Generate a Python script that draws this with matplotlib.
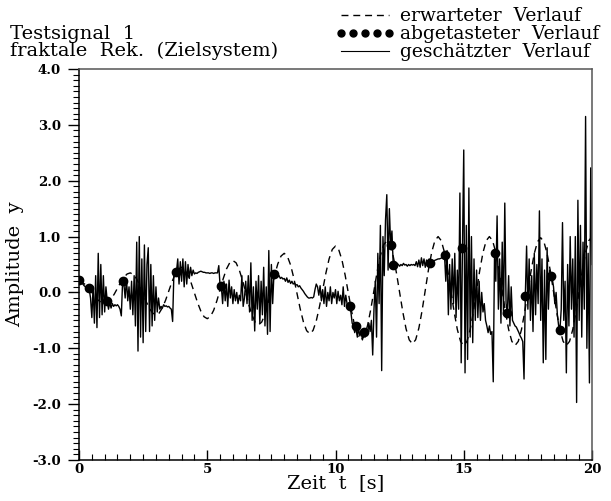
import matplotlib
matplotlib.use("Agg")
import matplotlib.pyplot as plt
from matplotlib.lines import Line2D
from matplotlib.ticker import MultipleLocator, FormatStrFormatter
import numpy as np

plt.rcParams['font.family'] = ['DejaVu Serif']

# geschaetzter Verlauf, abgetastet alle 0.05 s (0 ... 20 s)
y_est = [
    0.22, 0.20, 0.18, 0.15, 0.12, 0.10, 0.08, 0.06, 0.05, -0.10, -0.45, 0.10, -0.55, 0.30, -0.63, 0.70, -0.45, 0.50, -0.40, 0.30,
    -0.35, 0.10, -0.15, -0.30, -0.18, -0.28, -0.20, -0.25, -0.22, -0.24, -0.22, -0.25, -0.30, -0.42, 0.20, 0.15, -0.10, 0.25, -0.15, 0.10,
    -0.30, 0.20, -0.40, 0.30, -0.60, 0.90, -1.05, 1.00, -0.80, 0.60, -0.90, 0.85, -0.70, 0.50, 0.80, -0.70, 0.50, -0.60, 0.30, -0.50,
    0.10, -0.35, -0.10, -0.30, -0.25, -0.28, -0.22, -0.25, -0.24, -0.26, -0.25, -0.28, -0.30, -0.52, 0.35, 0.40, 0.37, 0.60, 0.15, 0.55,
    0.20, 0.60, 0.10, 0.55, 0.15, 0.50, 0.25, 0.45, 0.30, 0.40, 0.33, 0.35, 0.34, 0.36, 0.37, 0.38, 0.37, 0.36, 0.36, 0.35,
    0.35, 0.35, 0.34, 0.35, 0.35, 0.34, 0.35, 0.35, 0.35, 0.48, 0.12, 0.10, -0.20, 0.20, -0.15, 0.15, -0.25, 0.22, -0.10, 0.10,
    -0.20, 0.05, -0.15, 0.00, -0.20, -0.05, -0.15, 0.30, -0.25, -0.10, 0.20, -0.20, 0.30, -0.35, 0.53, -0.50, 0.10, -0.69, 0.20, -0.30,
    0.30, -0.55, 0.20, -0.40, 0.45, -0.60, 0.10, -0.75, 0.75, -0.70, 0.50, -0.20, 0.33, 0.30, 0.32, 0.28, 0.30, 0.25, 0.27, 0.24,
    0.25, 0.20, 0.26, 0.18, 0.22, 0.16, 0.20, 0.15, 0.17, 0.13, 0.14, 0.10, 0.12, 0.08, 0.05, 0.02, -0.02, -0.05, -0.08, -0.10,
    -0.10, -0.09, -0.10, -0.08, 0.05, 0.15, 0.10, -0.05, 0.12, -0.15, 0.05, -0.20, 0.10, -0.25, 0.00, -0.15, 0.10, -0.20, 0.00, -0.10,
    0.05, -0.20, 0.02, -0.15, -0.05, -0.22, 0.10, -0.25, -0.05, -0.20, -0.30, -0.25, -0.35, -0.55, -0.60, -0.72, -0.60, -0.80, -0.65, -0.78,
    -0.70, -0.85, -0.70, -0.80, -0.65, -0.75, -0.55, -0.70, -0.50, -1.12, -0.30, 0.20, -0.80, 0.70, -0.20, 1.20, -1.40, 1.00, 0.30, 1.30,
    1.75, 0.40, 1.50, 0.85, 1.10, 0.50, 0.55, 0.48, 0.52, 0.50, 0.47, 0.50, 0.48, 0.52, 0.49, 0.50, 0.47, 0.50, 0.48, 0.50,
    0.49, 0.50, 0.48, 0.55, 0.46, 0.58, 0.45, 0.62, 0.48, 0.60, 0.45, 0.58, 0.50, 0.60, 0.52, 0.55, 0.56, 0.57, 0.58, 0.59,
    0.60, 0.60, 0.61, 0.62, 0.63, 0.67, 0.20, 0.75, -0.40, 0.50, -0.30, 0.60, -0.20, 0.70, -0.45, 0.40, -0.30, 1.78, -1.26, 0.80,
    2.55, -1.44, 1.20, -1.20, 1.87, -0.80, 1.00, -0.90, 0.60, -0.50, 0.40, -0.45, 0.20, -0.50, 0.00, -0.35, -0.20, -0.50, -0.60, -0.72,
    -0.60, -0.75, -0.70, -1.60, 0.70, 0.20, 1.37, -0.30, 0.60, -0.55, 0.90, -0.40, 1.60, -0.20, -0.37, 0.30, -0.60, 0.10, -0.50, -0.55,
    -0.60, -0.62, -0.67, -0.72, -0.78, -0.82, -0.88, -1.55, -0.06, 0.83, -0.30, 0.60, -0.50, 0.30, -0.70, 0.70, -0.40, 0.50, -0.20, 1.46,
    -0.50, 0.60, -1.26, 0.40, -1.20, 0.80, -0.30, 0.40, 0.30, 0.25, 0.10, -0.20, 0.00, -0.40, -0.60, -0.67, -0.30, 1.25, -0.50, 0.20,
    -1.44, 0.50, -0.60, 1.00, -0.30, 0.60, -0.80, 1.00, -1.97, 1.65, -0.50, 1.20, -0.80, 0.90, -0.30, 3.15, -1.00, 0.70, -1.62, 2.23,
    0.50,
]
t_est = np.arange(len(y_est)) * 0.05

# erwarteter Verlauf, alle 0.125 s
y_exp = [
    0.20, 0.18, 0.14, 0.08, 0.00, -0.08, -0.14, -0.18,
    -0.20, -0.18, -0.12, -0.03, 0.075, 0.18, 0.27, 0.33,
    0.35, 0.32, 0.24, 0.12, -0.025, -0.17, -0.29, -0.37,
    -0.40, -0.37, -0.275, -0.14, 0.025, 0.19, 0.325, 0.42,
    0.45, 0.415, 0.315, 0.166, -0.01, -0.186, -0.335, -0.435,
    -0.47, -0.43, -0.32, -0.15, 0.05, 0.25, 0.42, 0.53,
    0.57, 0.53, 0.40, 0.215, -0.005, -0.225, -0.41, -0.54,
    -0.58, -0.53, -0.39, -0.185, 0.06, 0.305, 0.51, 0.65,
    0.70, 0.645, 0.49, 0.256, -0.02, -0.296, -0.53, -0.685,
    -0.74, -0.68, -0.51, -0.256, 0.045, 0.345, 0.60, 0.77,
    0.83, 0.766, 0.584, 0.312, -0.01, -0.33, -0.604, -0.786,
    -0.85, -0.783, -0.591, -0.304, 0.035, 0.374, 0.661, 0.853,
    0.92, 0.85, 0.65, 0.352, 0.00, -0.352, -0.65, -0.85,
    -0.92, -0.847, -0.639, -0.327, 0.04, 0.408, 0.719, 0.927,
    1.00, 0.926, 0.714, 0.398, 0.025, -0.348, -0.664, -0.876,
    -0.95, -0.876, -0.664, -0.348, 0.025, 0.398, 0.714, 0.926,
    1.00, 0.926, 0.714, 0.398, 0.025, -0.348, -0.664, -0.876,
    -0.95, -0.877, -0.667, -0.355, 0.015, 0.385, 0.697, 0.907,
    0.98, 0.907, 0.697, 0.385, 0.015, -0.355, -0.667, -0.877,
    -0.95, -0.876, -0.664, -0.348, 0.025, 0.398, 0.714, 0.926,
    1.00,
]
t_exp = np.arange(len(y_exp)) * 0.125

# abgetastete Punkte
t_dots = [0.0, 0.4, 1.1, 1.7, 3.8, 5.52, 7.6, 10.55, 10.8, 11.1, 12.15, 12.25,
          13.7, 14.25, 14.95, 16.2, 16.7, 17.4, 18.4, 18.75]
y_dots = [0.22, 0.08, -0.15, 0.2, 0.37, 0.12, 0.33, -0.25, -0.6, -0.7, 0.85, 0.5,
          0.52, 0.67, 0.8, 0.7, -0.37, -0.06, 0.3, -0.67]

fig = plt.figure(figsize=(6.11, 5.01), dpi=100)
ax = fig.add_axes([79/611, 1-460/501, (592-79)/611, (460-69)/501])

ax.plot(t_exp, y_exp, color='black', lw=1.0, dashes=(5, 3.5))
ax.plot(t_est, y_est, color='black', lw=1.0)
ax.plot(t_dots, y_dots, 'o', color='black', ms=6)

ax.set_xlim(0, 20)
ax.set_ylim(-3, 4)
ax.xaxis.set_major_locator(MultipleLocator(5))
ax.xaxis.set_minor_locator(MultipleLocator(0.5))
ax.yaxis.set_major_locator(MultipleLocator(1))
ax.yaxis.set_minor_locator(MultipleLocator(0.1))
ax.yaxis.set_major_formatter(FormatStrFormatter('%.1f'))
ax.tick_params(axis='y', which='major', direction='out', length=8, width=1, labelsize=9.5, pad=5)
ax.tick_params(axis='y', which='minor', direction='out', length=4, width=0.8)
ax.tick_params(axis='x', which='major', direction='in', length=7, width=1, labelsize=9.5, pad=2)
ax.tick_params(axis='x', which='minor', direction='in', length=4, width=0.8)
ax.tick_params(top=False, right=False)
for lab in ax.get_xticklabels() + ax.get_yticklabels():
    lab.set_fontweight('bold')
for s in ['top', 'right']:
    ax.spines[s].set_color('#555555')
for s in ax.spines.values():
    s.set_linewidth(1.1)

ax.set_xlabel('Zeit  t  [s]', fontsize=14, labelpad=-1)
ax.set_ylabel('Amplitude  y', fontsize=14, labelpad=6)

fig.text(10/611, 1-34/501, 'Testsignal  1', fontsize=14, va='center')
fig.text(10/611, 1-51/501, 'fraktale  Rek.  (Zielsystem)', fontsize=14, va='center')

handles = [Line2D([], [], color='black', lw=1.0, dashes=(5, 3.5)),
           Line2D([], [], color='black', ls='none', marker='o', ms=5),
           Line2D([], [], color='black', lw=0.8)]
labels = ['erwarteter  Verlauf', 'abgetasteter  Verlauf', 'geschätzter  Verlauf']
fig.legend(handles, labels, loc='upper right', bbox_to_anchor=(1.0, 1.008),
           frameon=False, fontsize=13.5, numpoints=5, handlelength=3.2,
           handletextpad=0.3, labelspacing=0.0, borderaxespad=0.2)

fig.savefig('out.png', dpi=100)
